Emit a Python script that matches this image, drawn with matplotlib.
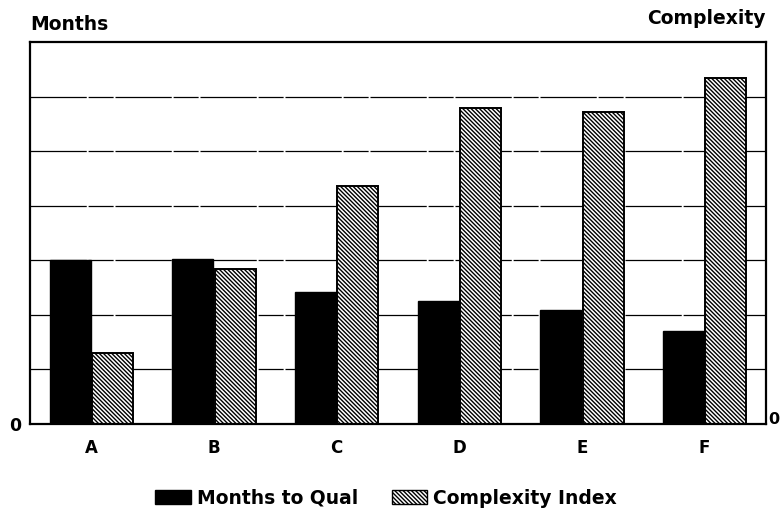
import matplotlib
matplotlib.use("Agg")
import matplotlib.pyplot as plt
import numpy as np
from matplotlib.patches import Patch

categories = ["A", "B", "C", "D", "E", "F"]
months_to_qual = [3.0, 3.02, 2.42, 2.25, 2.09, 1.70]
complexity_index = [1.30, 2.84, 4.36, 5.79, 5.72, 6.34]
grid_levels = [1, 2, 3, 4, 5, 6]

plt.rcParams['font.family'] = ['DejaVu Sans']
plt.rcParams['hatch.linewidth'] = 1.0

fig = plt.figure(figsize=(7.81, 5.2), dpi=100)
ax = fig.add_axes([30/781, 1-424/520, 736/781, 382/520])

x = np.arange(len(categories))
w = 0.335
HATCH = '\\' * 8
for g in grid_levels:
    ax.axhline(g, color='black', lw=0.9, ls=(0, (45, 1.5, 20, 1.5)), zorder=1)
ax.bar(x - w/2 - 0.005, months_to_qual, width=w, color='black', edgecolor='black', lw=1, zorder=2)
ax.bar(x + w/2 + 0.005, complexity_index, width=w, color='white', edgecolor='black', lw=1.4,
       hatch=HATCH, zorder=2)

ax.set_xlim(-0.5, 5.5)
ax.set_ylim(0, 7)
ax.set_yticks([])
ax.set_xticks(x)
ax.set_xticklabels(categories, fontsize=12, fontweight='bold')
ax.tick_params(axis='x', length=0, pad=11)
for s in ax.spines.values():
    s.set_linewidth(1.6)

fig.text(30/781, 1-25/520, "Months", fontsize=13.5, fontweight='bold', ha='left', va='center')
fig.text(766/781, 1-19/520, "Complexity", fontsize=13.5, fontweight='bold', ha='right', va='center')
fig.text(15/781, 1-426/520, "0", fontsize=12.5, fontweight='bold', ha='center', va='center')
fig.text(768/781, 1-419/520, "0", fontsize=11.5, fontweight='bold', ha='left', va='center')

handles = [Patch(facecolor='black', edgecolor='black', label='Months to Qual'),
           Patch(facecolor='white', edgecolor='black', hatch=HATCH, label='Complexity Index')]
fig.legend(handles=handles, loc='center', bbox_to_anchor=(386/781, 1-498/520), ncol=2,
           frameon=False, prop={'size': 13.5, 'weight': 'bold'}, handlelength=1.9,
           handleheight=0.75, columnspacing=1.8, handletextpad=0.3)

fig.savefig("out.png", dpi=100)
